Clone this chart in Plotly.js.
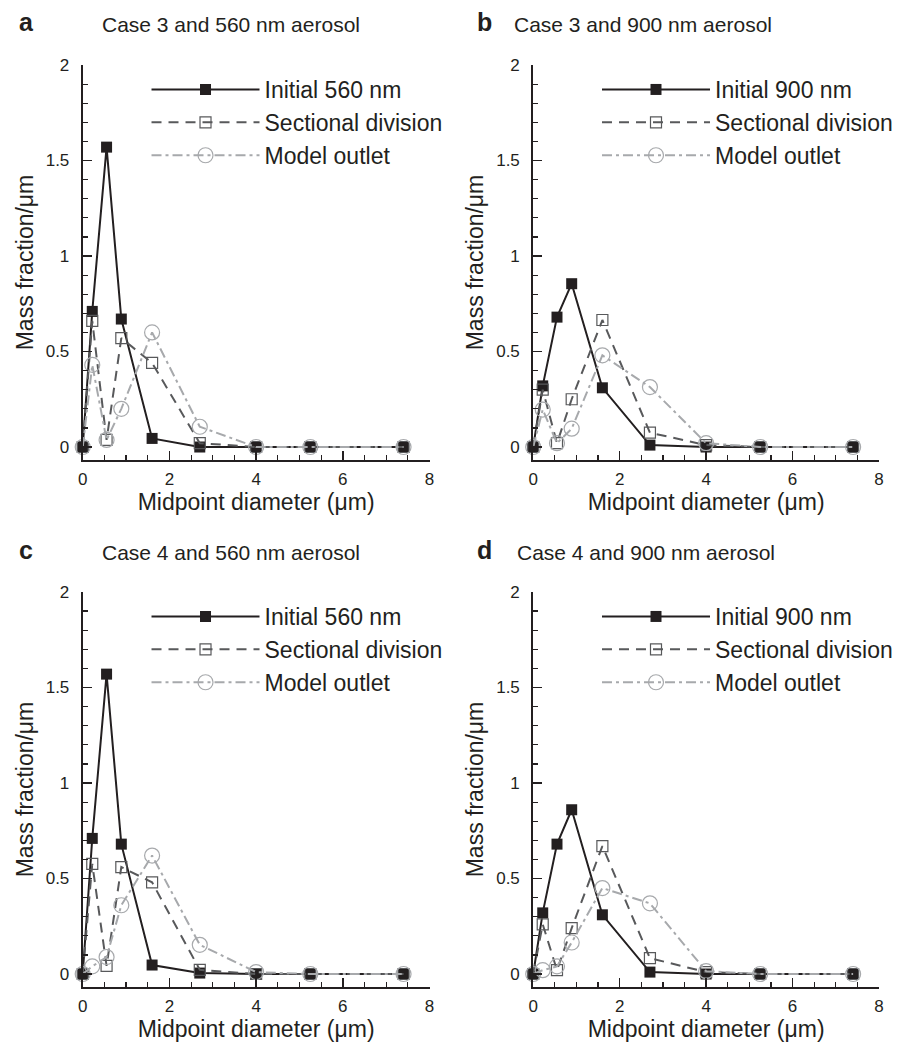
<!DOCTYPE html>
<html>
<head>
<meta charset="utf-8">
<script src="https://cdn.plot.ly/plotly-3.0.1.min.js"></script>
<style>body{margin:0;background:#fff}#chart{width:898px;height:1046px}</style>
</head>
<body>
<div id="chart"></div>
<script>
// Midpoint diameters (µm)
const xMid = [0, 0.22, 0.55, 0.89, 1.6, 2.7, 4.0, 5.25, 7.4];

// Panel a: Case 3, 560 nm
const initA  = [0, 0.71, 1.57, 0.67, 0.045, 0, 0, 0, 0];
const sectA  = [0, 0.66, 0.037, 0.57, 0.44, 0.02, 0, 0, 0];
const modelA = [0, 0.43, 0.037, 0.20, 0.60, 0.106, 0, 0, 0];

// Panel b: Case 3, 900 nm
const initB  = [0, 0.32, 0.68, 0.855, 0.31, 0.01, 0, 0, 0];
const sectB  = [0, 0.30, 0.02, 0.25, 0.665, 0.075, 0.01, 0, 0];
const modelB = [0, 0.196, 0.02, 0.096, 0.48, 0.314, 0.02, 0, 0];

// Panel c: Case 4, 560 nm
const initC  = [0, 0.71, 1.57, 0.68, 0.047, 0.005, 0, 0, 0];
const sectC  = [0, 0.577, 0.043, 0.56, 0.48, 0.022, 0, 0, 0];
const modelC = [0, 0.04, 0.089, 0.36, 0.62, 0.153, 0.01, 0, 0];

// Panel d: Case 4, 900 nm
const initD  = [0, 0.32, 0.68, 0.86, 0.31, 0.01, 0, 0, 0];
const sectD  = [0, 0.26, 0.02, 0.24, 0.67, 0.083, 0.01, 0, 0];
const modelD = [0, 0.02, 0.04, 0.165, 0.45, 0.37, 0.015, 0, 0];

const panelLetters = ['a', 'b', 'c', 'd'];
const panelTitles = ['Case 3 and 560 nm aerosol', 'Case 3 and 900 nm aerosol',
                     'Case 4 and 560 nm aerosol', 'Case 4 and 900 nm aerosol'];
const initNames = ['Initial 560 nm', 'Initial 900 nm', 'Initial 560 nm', 'Initial 900 nm'];
const sectName = 'Sectional division';
const modelName = 'Model outlet';
const xTitle = 'Midpoint diameter (\u03bcm)';
const yTitle = 'Mass fraction/\u03bcm';

const panels = [
  {init: initA, sect: sectA, model: modelA},
  {init: initB, sect: sectB, model: modelB},
  {init: initC, sect: sectC, model: modelC},
  {init: initD, sect: sectD, model: modelD}
];

const W = 898, H = 1046;
const FONT = 'Liberation Sans, Arial, Helvetica, sans-serif';
const C_INIT = '#231f20', C_SECT = '#58595b', C_MODEL = '#a7a9ac', AX = '#231f20';

// pixel geometry of the plot areas
const xPix = [[83, 431], [535, 882], [83, 431], [535, 882]];
const yPix = [[65, 460], [65, 460], [592, 987], [592, 987]];

const traces = [];
const layout = {
  width: W, height: H,
  margin: {l: 0, r: 0, t: 0, b: 0},
  paper_bgcolor: '#fff', plot_bgcolor: 'rgba(0,0,0,0)',
  font: {family: FONT, color: AX},
  showlegend: true,
  annotations: []
};

panels.forEach((p, i) => {
  const k = i + 1;
  const xa = 'x' + (k === 1 ? '' : k), ya = 'y' + (k === 1 ? '' : k);
  const lg = 'legend' + (k === 1 ? '' : k);
  traces.push({
    x: xMid, y: p.init, xaxis: xa, yaxis: ya, legend: lg, name: initNames[i],
    type: 'scatter', mode: 'lines+markers', cliponaxis: false,
    line: {color: C_INIT, width: 2},
    marker: {symbol: 'square', size: 11, color: C_INIT}
  });
  traces.push({
    x: xMid, y: p.sect, xaxis: xa, yaxis: ya, legend: lg, name: sectName,
    type: 'scatter', mode: 'lines+markers', cliponaxis: false,
    line: {color: C_SECT, width: 2, dash: '10px,7px'},
    marker: {symbol: 'square-open', size: 11, color: C_SECT, line: {width: 1.2, color: C_SECT}}
  });
  traces.push({
    x: xMid, y: p.model, xaxis: xa, yaxis: ya, legend: lg, name: modelName,
    type: 'scatter', mode: 'lines+markers', cliponaxis: false,
    line: {color: C_MODEL, width: 2, dash: '10px,4px,3px,4px'},
    marker: {symbol: 'circle-open', size: 15, color: C_MODEL, line: {width: 1.2, color: C_MODEL}}
  });

  const xd = [xPix[i][0] / W, xPix[i][1] / W];
  const yd = [1 - yPix[i][1] / H, 1 - yPix[i][0] / H];
  const axKeyX = 'xaxis' + (k === 1 ? '' : k), axKeyY = 'yaxis' + (k === 1 ? '' : k);
  layout[axKeyX] = {
    domain: xd, anchor: ya, range: [0, 8], tickvals: [0, 2, 4, 6, 8],
    showgrid: false, zeroline: false, showline: true, linecolor: AX, linewidth: 2,
    ticks: 'inside', ticklen: 9, tickwidth: 1.5, tickcolor: AX,
    minor: {ticks: 'inside', ticklen: 5, dtick: 0.5, tickwidth: 1.2, tickcolor: AX, showgrid: false},
    tickfont: {size: 17, color: AX}, ticklabelstandoff: 3,
    title: {text: xTitle, font: {size: 23, color: AX}, standoff: 4},
    automargin: false, fixedrange: true
  };
  layout[axKeyY] = {
    domain: yd, anchor: xa, range: [-0.068, 2], tickvals: [0, 0.5, 1, 1.5, 2],
    ticktext: ['0', '0.5', '1', '1.5', '2'],
    showgrid: false, zeroline: false, showline: true, linecolor: AX, linewidth: 2,
    ticks: 'inside', ticklen: 9, tickwidth: 1.5, tickcolor: AX,
    minor: {ticks: 'inside', ticklen: 5, dtick: 0.1, tick0: 0, tickwidth: 1.2, tickcolor: AX, showgrid: false},
    tickfont: {size: 17, color: AX}, ticklabelstandoff: 8,
    title: {text: yTitle, font: {size: 23, color: AX}, standoff: 6},
    automargin: false, fixedrange: true
  };
  layout[lg] = {
    x: (xPix[i][0] + 64) / W, y: 1 - (yPix[i][0] + 3) / H,
    xanchor: 'left', yanchor: 'top',
    bgcolor: 'rgba(0,0,0,0)', borderwidth: 0,
    font: {size: 23, color: AX, family: FONT},
    itemwidth: 108, tracegroupgap: 0
  };
  // panel letter and heading
  const topPix = i < 2 ? 22 : 550;
  layout.annotations.push({
    xref: 'paper', yref: 'paper', x: (i % 2 === 0 ? 17 : 477) / W, y: 1 - topPix / H,
    xanchor: 'left', yanchor: 'middle', showarrow: false,
    text: '<b>' + panelLetters[i] + '</b>', font: {size: 25, color: AX, family: FONT}
  });
  layout.annotations.push({
    xref: 'paper', yref: 'paper', x: (i % 2 === 0 ? 100 : (i === 1 ? 514 : 517)) / W, y: 1 - (topPix + 2) / H,
    xanchor: 'left', yanchor: 'middle', showarrow: false,
    text: panelTitles[i], font: {size: 21, color: AX, family: FONT}
  });
});

Plotly.newPlot('chart', traces, layout, {staticPlot: true, displayModeBar: false});
</script>
</body>
</html>
